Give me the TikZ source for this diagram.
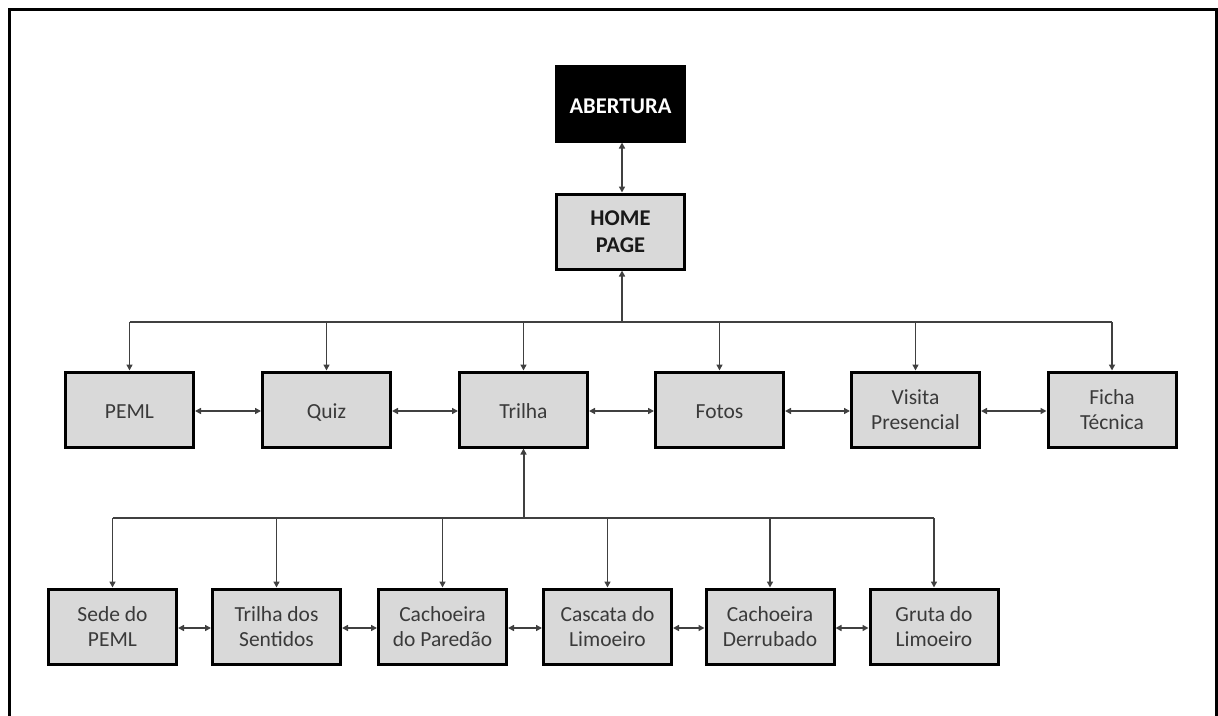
\documentclass[tikz,border=0pt]{standalone}
\usepackage{fontspec}
\setmainfont{Carlito}
\usetikzlibrary{arrows.meta}
\definecolor{boxgray}{HTML}{D9D9D9}
\definecolor{txtgray}{HTML}{3A3A3A}
\definecolor{linegray}{HTML}{404040}
\begin{document}
\begin{tikzpicture}[x=1pt,y=-1pt,
  pagebox/.style={draw=black, line width=3pt, fill=boxgray, minimum width=128pt, minimum height=75pt,
    inner sep=0pt, align=center, text=txtgray, font=\fontsize{21.5}{25.6}\selectfont,
    execute at begin node=\strut, text depth=0pt},
  boldbox/.style={pagebox, text=black!90, font=\fontsize{22.5}{27.3}\selectfont\bfseries},
  conn/.style={draw=linegray, line width=1.6pt},
  tip/.style={-{Triangle[length=6pt,width=6pt]}},
  both/.style={{Triangle[length=6pt,width=6pt]}-{Triangle[length=6pt,width=6pt]}}
]
\useasboundingbox (0,0) rectangle (1218,715);
\draw[line width=3pt] (9,720) -- (9,9) -- (1216.5,9) -- (1216.5,720);

\node[boldbox, fill=black, text=white] (abertura) at (620.5,103.5) {ABERTURA};
\node[boldbox] (home) at (620.5,231.5) {HOME\\PAGE};

\node[pagebox] (peml) at (129.5,409.5) {PEML};
\node[pagebox] (quiz) at (326.5,409.5) {Quiz};
\node[pagebox] (trilha) at (523.5,409.5) {Trilha};
\node[pagebox] (fotos) at (719.5,409.5) {Fotos};
\node[pagebox] (visita) at (915.5,409.5) {Visita\\Presencial};
\node[pagebox] (ficha) at (1112,409.5) {Ficha\\Técnica};

\node[pagebox] (sede) at (112.5,626.5) {Sede do\\PEML};
\node[pagebox] (sentidos) at (276.5,626.5) {Trilha dos\\Sentidos};
\node[pagebox] (paredao) at (442.5,626.5) {Cachoeira\\do Paredão};
\node[pagebox] (cascata) at (607.5,626.5) {Cascata do\\Limoeiro};
\node[pagebox] (derrubado) at (770,626.5) {Cachoeira\\Derrubado};
\node[pagebox] (gruta) at (934,626.5) {Gruta do\\Limoeiro};

\coordinate (bus1) at (622,322);
\coordinate (bus2) at (523.5,518);

\draw[conn, both] (abertura.south -| bus1) -- (home.north -| bus1);
\draw[conn, tip, line width=2pt] (bus1) -- (home.south -| bus1);
\draw[conn] (peml.north |- bus1) -- (ficha.north |- bus1);
\foreach \n in {peml,quiz,trilha,fotos,visita,ficha}
  \draw[conn, tip] (\n.north |- bus1) -- (\n.north);

\draw[conn, tip, line width=2pt] (bus2) -- (trilha.south);
\draw[conn] (sede.north |- bus2) -- (gruta.north |- bus2);
\foreach \n in {sede,sentidos,paredao,cascata,derrubado,gruta}
  \draw[conn, tip] (\n.north |- bus2) -- (\n.north);

\foreach \a/\b in {peml/quiz,quiz/trilha,trilha/fotos,fotos/visita,visita/ficha}
  \draw[conn, both] ([yshift=-1.5pt]\a.east) -- ([yshift=-1.5pt]\b.west);
\foreach \a/\b in {sede/sentidos,sentidos/paredao,paredao/cascata,cascata/derrubado,derrubado/gruta}
  \draw[conn, both] ([yshift=-1.5pt]\a.east) -- ([yshift=-1.5pt]\b.west);
\end{tikzpicture}
\end{document}
